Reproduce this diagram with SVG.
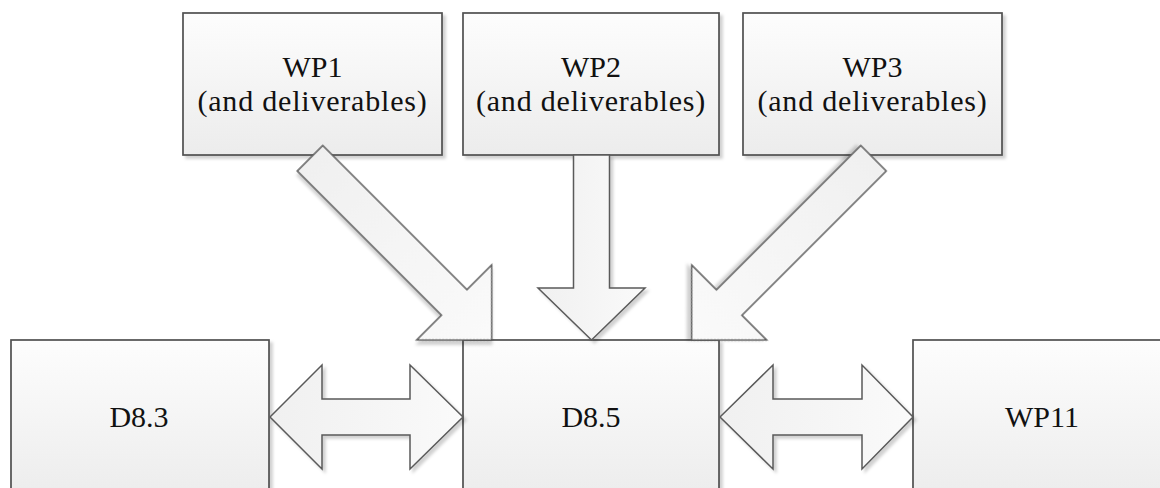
<svg xmlns="http://www.w3.org/2000/svg" width="1160" height="488" viewBox="0 0 1160 488">
  <defs>
    <linearGradient id="boxFill" x1="0" y1="0" x2="0" y2="1">
      <stop offset="0" stop-color="#fdfdfd"/>
      <stop offset="1" stop-color="#ececec"/>
    </linearGradient>
    <linearGradient id="arrowFill" x1="0" y1="0" x2="1" y2="0">
      <stop offset="0" stop-color="#f0f0f0"/>
      <stop offset="1" stop-color="#fafafa"/>
    </linearGradient>
    <filter id="shadow" x="-10%" y="-10%" width="130%" height="130%">
      <feDropShadow dx="3" dy="3" stdDeviation="1.5" flood-color="#000" flood-opacity="0.18"/>
    </filter>
  </defs>
  <style>
    .box { fill: url(#boxFill); stroke: #505050; stroke-width: 1.7; filter: url(#shadow); }
    .arrow { fill: url(#arrowFill); stroke: #5a5a5a; stroke-width: 1.5; stroke-linejoin: miter; filter: url(#shadow); }
    .label { font-family: "Liberation Serif", "Times New Roman", serif; font-size: 30px; fill: #111; text-anchor: middle; }
  </style>
  <rect width="1160" height="488" fill="#fff"/>

  <!-- upper work packages -->
  <g id="wp1">
    <rect class="box" x="183" y="13" width="259" height="142"/>
    <text class="label" x="312.5" y="77">WP1</text>
    <text class="label" x="312.5" y="111" letter-spacing="0.8">(and deliverables)</text>
  </g>
  <g id="wp2">
    <rect class="box" x="463" y="13" width="256" height="142"/>
    <text class="label" x="591" y="77">WP2</text>
    <text class="label" x="591" y="111" letter-spacing="0.8">(and deliverables)</text>
  </g>
  <g id="wp3">
    <rect class="box" x="743" y="13" width="259" height="142"/>
    <text class="label" x="872.5" y="77">WP3</text>
    <text class="label" x="872.5" y="111" letter-spacing="0.8">(and deliverables)</text>
  </g>

  <!-- lower row -->
  <g id="d83">
    <rect class="box" x="11" y="340" width="258" height="160"/>
    <text class="label" x="139" y="427">D8.3</text>
  </g>
  <g id="d85">
    <rect class="box" x="463" y="340" width="256" height="160"/>
    <text class="label" x="591" y="427">D8.5</text>
  </g>
  <g id="wp11">
    <rect class="box" x="913" y="340" width="258" height="160"/>
    <text class="label" x="1042" y="427">WP11</text>
  </g>

  <!-- block arrows -->
  <g id="connectors">
    <polygon class="arrow" transform="translate(491.7 340) rotate(45)" points="0,0 -53,-53 -53,-18 -257,-18 -257,18 -53,18 -53,53"/>
    <polygon class="arrow" points="573.5,155 609.5,155 609.5,288 645,288 591.5,340 538,288 573.5,288"/>
    <polygon class="arrow" transform="translate(691.7 340) rotate(135)" points="0,0 -53,-53 -53,-18 -257,-18 -257,18 -53,18 -53,53"/>
    <polygon class="arrow" points="270,417 322,365 322,399 410,399 410,365 463,417 410,469 410,435 322,435 322,469"/>
    <polygon class="arrow" points="720,417 773,365 773,399 862,399 862,365 913,417 862,469 862,435 773,435 773,469"/>
  </g>
</svg>
